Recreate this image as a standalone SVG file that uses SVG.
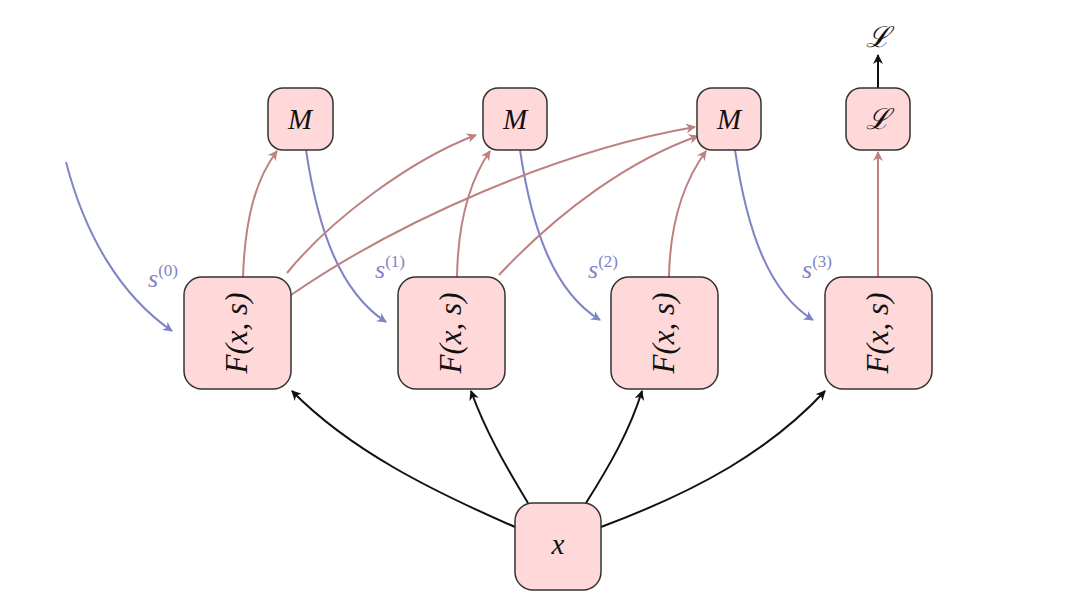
<svg xmlns="http://www.w3.org/2000/svg" width="1080" height="602" viewBox="0 0 1080 602">
<defs>
<style>
.box{fill:#ffd9d9;stroke:#333;stroke-width:1.5}
.m{font-family:"Liberation Serif","DejaVu Serif",serif;font-style:italic;font-size:29px;fill:#111;text-anchor:middle}
.f{font-size:31px}
.lbl{font-family:"Liberation Serif","DejaVu Serif",serif;font-size:26px;fill:#7f84c6}
.sup{font-size:17px;font-style:normal}
.blue{fill:none;stroke:#7f84c6;stroke-width:2}
.red{fill:none;stroke:#bf8080;stroke-width:2}
.blk{fill:none;stroke:#111;stroke-width:2}
</style>
<marker id="ab" viewBox="0 0 10 10" refX="9" refY="5" markerWidth="10" markerHeight="10" orient="auto" markerUnits="userSpaceOnUse"><path d="M0,0 L10,5 L0,10 L3,5 z" fill="#7f84c6"/></marker>
<marker id="ar" viewBox="0 0 10 10" refX="9" refY="5" markerWidth="10" markerHeight="10" orient="auto" markerUnits="userSpaceOnUse"><path d="M0,0 L10,5 L0,10 L3,5 z" fill="#bf8080"/></marker>
<marker id="ak" viewBox="0 0 10 10" refX="9" refY="5" markerWidth="10" markerHeight="10" orient="auto" markerUnits="userSpaceOnUse"><path d="M0,0 L10,5 L0,10 L3,5 z" fill="#111"/></marker>
</defs>
<rect width="1080" height="602" fill="#fff"/>
<g id="connectors">
<path class="blue" marker-end="url(#ab)" d="M66,162 C85,235 120,295 172,331"/>
<path class="blue" marker-end="url(#ab)" d="M306,150 C318,230 340,292 386,322"/>
<path class="blue" marker-end="url(#ab)" d="M520,150 C532,230 554,292 600,320"/>
<path class="blue" marker-end="url(#ab)" d="M735,150 C747,230 768,292 813,320"/>
<path class="red" marker-end="url(#ar)" d="M243,277 C245,220 255,180 277,151"/>
<path class="red" marker-end="url(#ar)" d="M287,273 C330,220 410,160 476,135"/>
<path class="red" marker-end="url(#ar)" d="M291,295 C400,220 560,150 695,127"/>
<path class="red" marker-end="url(#ar)" d="M457,277 C458,220 470,180 490,151"/>
<path class="red" marker-end="url(#ar)" d="M499,275 C560,210 630,160 698,136"/>
<path class="red" marker-end="url(#ar)" d="M669,277 C670,220 685,180 706,151"/>
<path class="red" marker-end="url(#ar)" d="M878,277 L878,152"/>
<path class="blk" marker-end="url(#ak)" d="M878,88 L878,55"/>
<path class="blk" marker-end="url(#ak)" d="M528,503 C505,465 485,430 471,391"/>
<path class="blk" marker-end="url(#ak)" d="M586,503 C610,465 630,430 642,391"/>
<path class="blk" marker-end="url(#ak)" d="M515,527 C430,490 350,450 292,391"/>
<path class="blk" marker-end="url(#ak)" d="M601,527 C700,490 770,450 825,391"/>
<text class="lbl" x="148" y="287"><tspan font-style="italic">s</tspan><tspan class="sup" dy="-11">(0)</tspan></text>
<text class="lbl" x="375" y="278"><tspan font-style="italic">s</tspan><tspan class="sup" dy="-11">(1)</tspan></text>
<text class="lbl" x="588" y="278"><tspan font-style="italic">s</tspan><tspan class="sup" dy="-11">(2)</tspan></text>
<text class="lbl" x="802" y="278"><tspan font-style="italic">s</tspan><tspan class="sup" dy="-11">(3)</tspan></text>
<text class="m" x="878" y="47" font-style="normal">ℒ</text>
</g>
<g id="F0"><rect class="box" x="184" y="277" width="107" height="112" rx="18"/><text class="m f" transform="translate(247,333) rotate(-90)">F(x, s)</text></g>
<g id="F1"><rect class="box" x="398" y="277" width="107" height="112" rx="18"/><text class="m f" transform="translate(461,333) rotate(-90)">F(x, s)</text></g>
<g id="F2"><rect class="box" x="611" y="277" width="107" height="112" rx="18"/><text class="m f" transform="translate(674,333) rotate(-90)">F(x, s)</text></g>
<g id="F3"><rect class="box" x="825" y="277" width="107" height="112" rx="18"/><text class="m f" transform="translate(888,333) rotate(-90)">F(x, s)</text></g>
<g id="M0"><rect class="box" x="268" y="88" width="65" height="62" rx="15"/><text class="m" x="300" y="129">M</text></g>
<g id="M1"><rect class="box" x="483" y="88" width="64" height="62" rx="15"/><text class="m" x="515" y="129">M</text></g>
<g id="M2"><rect class="box" x="697" y="88" width="64" height="62" rx="15"/><text class="m" x="729" y="129">M</text></g>
<g id="L"><rect class="box" x="846" y="88" width="64" height="62" rx="15"/><text class="m" x="878" y="129" font-style="normal">ℒ</text></g>
<g id="X"><rect class="box" x="515" y="503" width="86" height="87" rx="18"/><text class="m" x="558" y="554">x</text></g>
</svg>
